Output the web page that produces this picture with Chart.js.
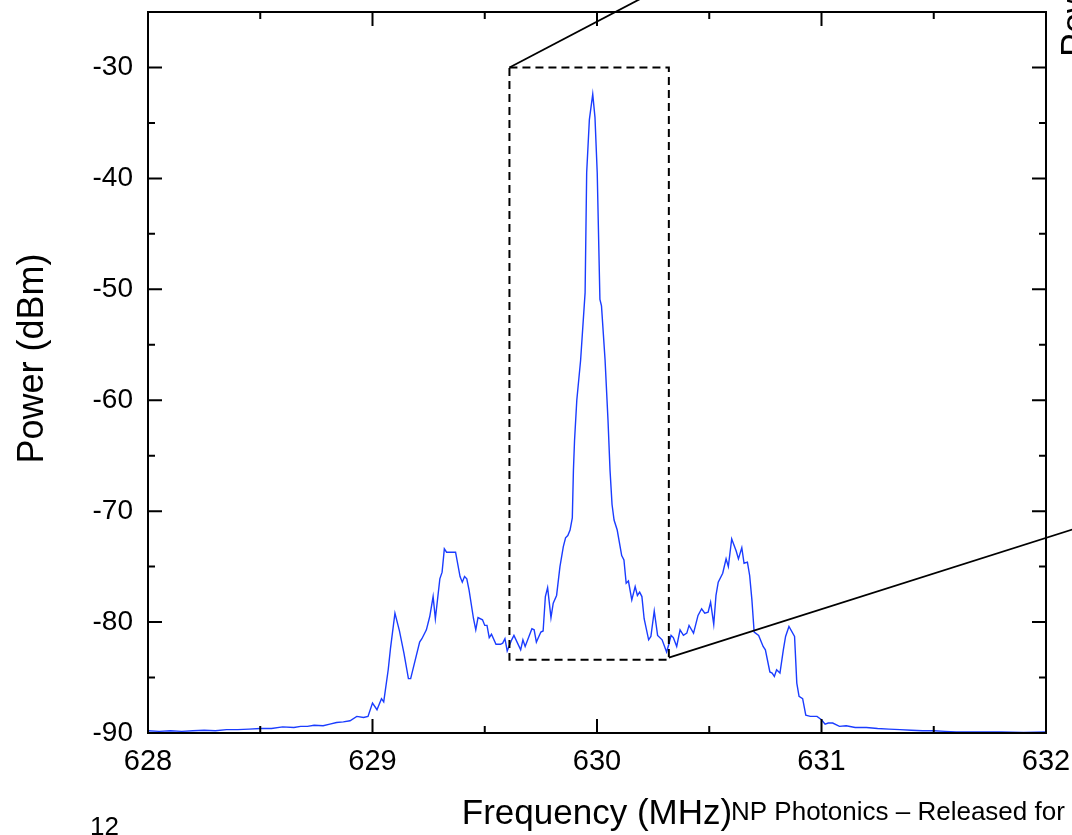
<!DOCTYPE html>
<html><head><meta charset="utf-8">
<script src="https://cdn.jsdelivr.net/npm/chart.js@4.4.1/dist/chart.umd.min.js"></script>
<style>html,body{margin:0;padding:0;background:#fff;overflow:hidden}</style>
</head><body>
<canvas id="c" width="1072" height="835"></canvas>
<script>
// ---- data ----
const freqMHz = [
628.00,628.05,628.10,628.15,628.20,628.25,628.30,628.35,628.40,628.45,628.50,628.55,628.60,628.65,628.68,628.71,628.74,628.78,628.81,628.84,628.87,628.90,628.93,628.96,628.98,
629.00,629.02,629.04,629.05,629.07,629.08,629.10,629.12,629.14,629.16,629.17,629.21,629.22,629.24,629.255,629.27,629.28,629.30,629.31,629.32,629.33,629.37,629.39,629.40,629.41,629.42,629.43,629.45,629.46,629.47,629.49,
629.50,629.51,629.52,629.53,629.55,629.57,629.58,629.59,629.60,629.62,629.63,629.66,629.67,629.68,629.71,629.72,629.73,629.75,629.76,629.77,629.78,629.795,629.805,629.82,629.835,629.85,629.86,629.87,629.88,629.89,629.895,629.90,629.91,629.927,629.947,629.954,629.966,629.981,629.991,
630.001,630.013,630.02,630.036,630.049,630.058,630.067,630.076,630.09,630.11,630.12,630.13,630.14,630.155,630.17,630.18,630.19,630.20,630.21,630.23,630.24,630.255,630.27,630.29,630.31,630.32,630.33,630.34,630.355,630.37,630.385,630.40,630.41,630.43,630.45,630.466,630.48,630.495,
630.506,630.52,630.53,630.54,630.56,630.575,630.585,630.60,630.62,630.63,630.645,630.655,630.67,630.68,630.69,630.70,630.72,630.74,630.75,630.77,630.78,630.79,630.80,630.815,630.83,630.84,630.855,630.88,630.89,630.90,630.916,630.93,630.95,630.98,
631.00,631.016,631.03,631.05,631.08,631.11,631.15,631.20,631.25,631.30,631.35,631.40,631.45,631.50,631.55,631.60,631.70,631.80,631.90,632.00
];
const powerDBm = [
-89.8,-89.85,-89.8,-89.85,-89.8,-89.75,-89.8,-89.7,-89.7,-89.65,-89.6,-89.6,-89.45,-89.5,-89.4,-89.4,-89.3,-89.35,-89.2,-89.05,-89.0,-88.9,-88.5,-88.6,-88.5,
-87.3,-87.9,-86.9,-87.2,-84.3,-82.4,-79.2,-80.8,-82.8,-85.1,-85.1,-81.8,-81.5,-80.7,-79.5,-77.7,-79.7,-76.1,-75.5,-73.4,-73.7,-73.7,-75.9,-76.4,-75.9,-76.1,-77.1,-79.7,-80.7,-79.6,-79.8,
-80.3,-80.3,-81.4,-81.1,-82.0,-82.0,-81.9,-81.5,-82.6,-81.6,-81.2,-82.5,-81.6,-82.2,-80.6,-80.7,-81.8,-80.9,-80.8,-77.7,-76.9,-79.6,-78.3,-77.6,-75.0,-73.2,-72.4,-72.2,-71.7,-70.6,-66.3,-63.6,-60.0,-56.4,-50.3,-39.5,-34.7,-32.4,-34.5,
-39.5,-50.9,-51.5,-56.4,-61.8,-66.3,-69.4,-70.8,-71.7,-74.0,-74.4,-76.5,-76.3,-78.0,-76.8,-77.6,-77.3,-77.7,-79.7,-81.6,-81.3,-79.0,-81.2,-81.6,-82.7,-82.0,-81.2,-81.4,-82.2,-80.7,-81.2,-81.0,-80.3,-81.0,-79.4,-78.8,-79.2,-79.1,
-78.2,-80.2,-77.6,-76.4,-75.6,-74.3,-75.0,-72.5,-73.6,-74.3,-73.3,-74.7,-74.6,-75.8,-78.0,-80.9,-81.2,-82.2,-82.5,-84.5,-84.6,-84.9,-84.3,-84.6,-82.5,-81.3,-80.4,-81.3,-85.5,-86.7,-86.9,-88.4,-88.5,-88.5,
-88.8,-89.2,-89.1,-89.1,-89.4,-89.35,-89.5,-89.5,-89.6,-89.65,-89.7,-89.75,-89.8,-89.8,-89.85,-89.9,-89.9,-89.9,-89.95,-89.9
];
const xMajorTicks = [628, 629, 630, 631, 632];
const xMinorTicks = [628.5, 629.5, 630.5, 631.5];
const yMajorTicks = [-90, -80, -70, -60, -50, -40, -30];
const yMinorTicks = [-85, -75, -65, -55, -45, -35];
// zoom-in box and its leader lines (data coordinates)
const zoomBoxFreq = [629.61, 630.32];
const zoomBoxPower = [-83.4, -30];
const leaderTop = [[629.61, -30], [630.77, -17.7]];
const leaderBottom = [[630.32, -83.2], [632.5, -69.2]];

const FONT = "'Liberation Sans', Arial, sans-serif";
Chart.defaults.font.family = FONT;
Chart.defaults.color = '#000';

const decor = {
  id: 'decor',
  afterDraw(chart) {
    const {ctx, chartArea: a, scales: {x, y}} = chart;
    ctx.save();
    ctx.strokeStyle = '#000';
    ctx.lineWidth = 2;
    ctx.lineCap = 'butt';
    ctx.strokeRect(a.left, a.top, a.right - a.left, a.bottom - a.top);
    const xt = (vals, len) => vals.forEach(v => {
      const px = x.getPixelForValue(v);
      ctx.beginPath();
      ctx.moveTo(px, a.bottom); ctx.lineTo(px, a.bottom - len);
      ctx.moveTo(px, a.top); ctx.lineTo(px, a.top + len);
      ctx.stroke();
    });
    const yt = (vals, len) => vals.forEach(v => {
      const py = y.getPixelForValue(v);
      ctx.beginPath();
      ctx.moveTo(a.left, py); ctx.lineTo(a.left + len, py);
      ctx.moveTo(a.right, py); ctx.lineTo(a.right - len, py);
      ctx.stroke();
    });
    xt(xMajorTicks, 14); xt(xMinorTicks, 7);
    yt(yMajorTicks, 14); yt(yMinorTicks, 7);

    // dashed zoom box
    const bx0 = x.getPixelForValue(zoomBoxFreq[0]), bx1 = x.getPixelForValue(zoomBoxFreq[1]);
    const by0 = y.getPixelForValue(zoomBoxPower[0]), by1 = y.getPixelForValue(zoomBoxPower[1]);
    ctx.setLineDash([8, 5]);
    ctx.strokeRect(bx0, by1, bx1 - bx0, by0 - by1);
    ctx.setLineDash([]);
    ctx.lineWidth = 1.8;
    [leaderTop, leaderBottom].forEach(seg => {
      ctx.beginPath();
      ctx.moveTo(x.getPixelForValue(seg[0][0]), y.getPixelForValue(seg[0][1]));
      ctx.lineTo(x.getPixelForValue(seg[1][0]), y.getPixelForValue(seg[1][1]));
      ctx.stroke();
    });

    // texts
    ctx.fillStyle = '#000';
    ctx.textBaseline = 'alphabetic';
    ctx.save();
    ctx.translate(43, (a.top + a.bottom) / 2 - 14);
    ctx.rotate(-Math.PI / 2);
    ctx.textAlign = 'center';
    ctx.font = '36px ' + FONT;
    ctx.fillText('Power (dBm)', 0, 0);
    ctx.restore();
    ctx.save();
    ctx.translate(1087, 57);
    ctx.rotate(-Math.PI / 2);
    ctx.textAlign = 'left';
    ctx.font = '36px ' + FONT;
    ctx.fillText('Power (dBm)', 0, 0);
    ctx.restore();
    ctx.textAlign = 'left';
    ctx.font = '26px ' + FONT;
    ctx.fillText('NP Photonics – Released for', 731, 820);
    ctx.fillText('12', 90, 835);
    ctx.restore();
  }
};

new Chart(document.getElementById('c'), {
  type: 'line',
  data: {
    datasets: [{
      data: freqMHz.map((f, i) => ({x: f, y: powerDBm[i]})),
      borderColor: '#1a3cff',
      borderWidth: 1.4,
      pointRadius: 0,
      tension: 0,
      fill: false
    }]
  },
  options: {
    responsive: false,
    devicePixelRatio: 1,
    animation: false,
    events: [],
    layout: {autoPadding: false, padding: {left: 0, top: 12, right: 26, bottom: 0}},
    plugins: {legend: {display: false}, tooltip: {enabled: false}},
    scales: {
      x: {
        type: 'linear', min: 628, max: 632,
        afterBuildTicks: s => { s.ticks = xMajorTicks.map(v => ({value: v})); },
        afterFit: s => { s.height = 102; s.paddingLeft = 0; s.paddingRight = 0; s.paddingTop = 0; s.paddingBottom = 0; },
        ticks: {font: {size: 29}, color: '#000', padding: 12, maxRotation: 0, autoSkip: false,
                callback: v => String(v)},
        grid: {display: false, drawTicks: false},
        border: {display: false},
        title: {display: true, text: 'Frequency (MHz)', color: '#000',
                font: {size: 35, lineHeight: 1}, padding: {top: 0, bottom: 3}}
      },
      y: {
        type: 'linear', min: -90, max: -25,
        afterBuildTicks: s => { s.ticks = yMajorTicks.map(v => ({value: v})); },
        afterFit: s => { s.width = 148; s.paddingLeft = 0; s.paddingRight = 0; s.paddingTop = 0; s.paddingBottom = 0; },
        ticks: {font: {size: 28}, color: '#000', padding: 15, autoSkip: false,
                callback: v => String(v)},
        grid: {display: false, drawTicks: false},
        border: {display: false}
      }
    }
  },
  plugins: [decor]
});
</script>
</body></html>
